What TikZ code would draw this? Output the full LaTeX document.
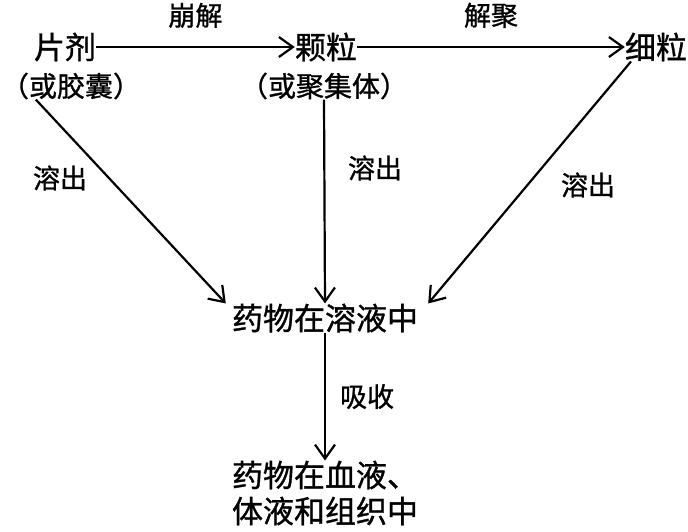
\documentclass[tikz,border=0pt]{standalone}
\usepackage{fontspec}
\newfontfamily\cjk[FakeBold=1]{Noto Sans CJK SC}
\usetikzlibrary{arrows.meta}
\tikzset{
    stage/.style={font=\cjk\fontsize{31}{36}\selectfont, inner sep=0pt, align=center},
    stage sub/.style={stage, font=\cjk\fontsize{28}{34}\selectfont},
    step label/.style={font=\cjk\fontsize{27}{30}\selectfont, inner sep=0pt},
    flow/.style={line width=2.2pt, -{Straight Barb[length=14pt, width=20pt, line width=2.2pt]}}
}
\begin{document}
\begin{tikzpicture}[x=1pt, y=-1pt]
            \useasboundingbox (0, 0) rectangle (688, 531);

            \node[stage] (tablet) at (65, 47) {片剂};
            \node[stage sub] (tabletsub) at (71, 86) {（或胶囊）};

            \node[stage] (granule) at (326, 47) {颗粒};
            \node[stage sub] (granulesub) at (324, 86) {（或聚集体）};

            \node[stage] (fine) at (656, 47) {细粒};

            \node[stage] (solution) at (325, 318) {药物在溶液中};

            \node[stage, align=left] (blood) at (325, 493) {药物在血液、\\体液和组织中};

            \draw[flow] (tablet) -- (granule) node[step label, midway, above=18pt] {崩解};

            \draw[flow] (granule) -- (fine) node[step label, midway, above=18pt] {解聚};

            \draw[flow] (tabletsub.south west) ++(35, 0) coordinate (a) -- ([xshift=-6pt]solution.north west);
            \node[step label] at (60, 178) {溶出};

            \draw[flow] (granulesub.south) -- (solution.north);
            \node[step label] at (375, 168) {溶出};

            \draw[flow] (fine.south) ++(-25, 0) coordinate (b) -- ([xshift=10pt]solution.north east);
            \node[step label] at (588, 185) {溶出};

            \draw[flow] (solution) -- (blood) node[step label, midway, right=14pt] {吸收};
        \end{tikzpicture}
\end{document}
